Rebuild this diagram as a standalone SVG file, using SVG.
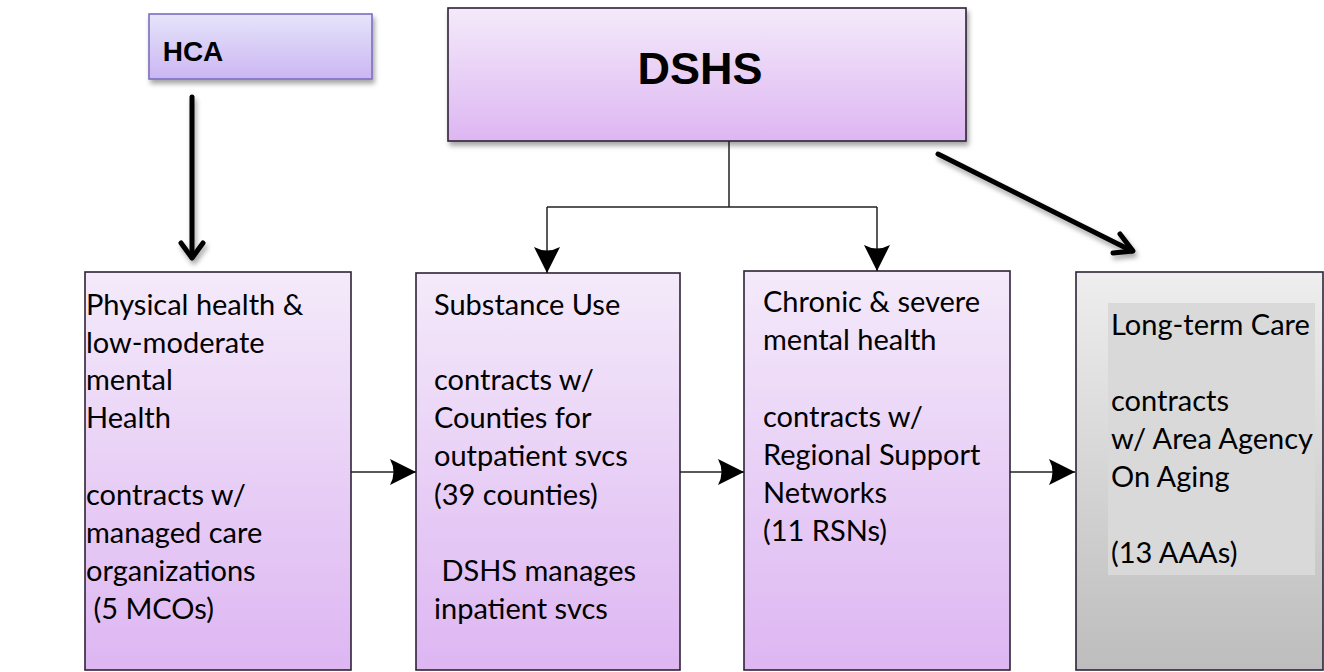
<svg xmlns="http://www.w3.org/2000/svg" width="1324" height="672" viewBox="0 0 1324 672">
<defs>
<linearGradient id="gPurple" x1="0" y1="0" x2="0" y2="1">
<stop offset="0" stop-color="#F4EAFA"/><stop offset="1" stop-color="#DDB6F2"/>
</linearGradient>
<linearGradient id="gHca" x1="0" y1="0" x2="0" y2="1">
<stop offset="0" stop-color="#E6E4FA"/><stop offset="1" stop-color="#CBB6F3"/>
</linearGradient>
<linearGradient id="gGray" x1="0" y1="0" x2="0" y2="1">
<stop offset="0" stop-color="#EEEEEE"/><stop offset="1" stop-color="#BDBDBD"/>
</linearGradient>
<filter id="sh" x="-10%" y="-10%" width="130%" height="140%">
<feDropShadow dx="2" dy="4" stdDeviation="2.5" flood-color="#000" flood-opacity="0.35"/>
</filter>
<marker id="tri" viewBox="0 0 26 26" markerWidth="26" markerHeight="26" refX="26" refY="13" orient="auto" markerUnits="userSpaceOnUse">
<path d="M26,13 L0,0 Q7,13 0,26 Z" fill="#000"/>
</marker>
</defs>
<style>
.box{stroke:#2E2236;stroke-width:1.6}
.t{font-family:Lato,"Liberation Sans",sans-serif;font-size:29px;fill:#000}
.h{font-family:"Liberation Sans",Arial,sans-serif;font-weight:bold;fill:#000}
.thin{fill:none;stroke:#222;stroke-width:1.5}
.thick{fill:none;stroke:#000;stroke-width:5;stroke-linecap:round;stroke-linejoin:round}
</style>

<g id="hca">
<rect x="149" y="14" width="223" height="65" fill="url(#gHca)" stroke="#7A6FC0" stroke-width="1.6" filter="url(#sh)"/>
<text class="h" x="193" y="61" font-size="28" text-anchor="middle">HCA</text>
</g>

<g id="dshs">
<rect x="448" y="8" width="518" height="133" fill="url(#gPurple)" class="box" filter="url(#sh)"/>
<text class="h" x="700" y="84" font-size="45" text-anchor="middle">DSHS</text>
</g>

<g id="physical">
<rect x="85" y="272" width="266" height="398" fill="url(#gPurple)" class="box"/>
<text class="t"><tspan x="86" y="315">Physical health &amp;</tspan><tspan x="86" y="353">low-moderate</tspan><tspan x="86" y="390">mental</tspan><tspan x="86" y="428">Health</tspan><tspan x="86" y="505">contracts w/</tspan><tspan x="86" y="543">managed care</tspan><tspan x="86" y="581">organizations</tspan><tspan x="86" y="619" xml:space="preserve"> (5 MCOs)</tspan></text>
</g>

<g id="substance">
<rect x="416" y="273" width="264" height="397" fill="url(#gPurple)" class="box"/>
<text class="t"><tspan x="434" y="315">Substance Use</tspan><tspan x="434" y="390">contracts w/</tspan><tspan x="434" y="428">Counties for</tspan><tspan x="434" y="466">outpatient svcs</tspan><tspan x="434" y="505">(39 counties)</tspan><tspan x="434" y="581" xml:space="preserve"> DSHS manages</tspan><tspan x="434" y="619">inpatient svcs</tspan></text>
</g>

<g id="chronic">
<rect x="744" y="271" width="266" height="399" fill="url(#gPurple)" class="box"/>
<text class="t"><tspan x="763" y="312">Chronic &amp; severe</tspan><tspan x="763" y="350">mental health</tspan><tspan x="763" y="427">contracts w/</tspan><tspan x="763" y="465">Regional Support</tspan><tspan x="763" y="503">Networks</tspan><tspan x="763" y="541">(11 RSNs)</tspan></text>
</g>

<g id="longterm">
<rect x="1076" y="272" width="247" height="398" fill="url(#gGray)" class="box" stroke="#111"/>
<rect x="1108" y="303" width="207" height="272" fill="#D9D9D9"/>
<text class="t"><tspan x="1111" y="335">Long-term Care</tspan><tspan x="1111" y="411">contracts</tspan><tspan x="1111" y="449">w/ Area Agency</tspan><tspan x="1111" y="487">On Aging</tspan><tspan x="1111" y="563">(13 AAAs)</tspan></text>
</g>

<g id="connectors">
<g filter="url(#sh)">
<path class="thick" d="M192,97 L192,257"/>
<path class="thick" d="M181,243 L192,258 L203,243"/>
<path class="thick" d="M938,154 L1132,251"/>
<path class="thick" d="M1120,234 L1133,251 L1113,253"/>
</g>
<path class="thin" d="M729,141 L729,207 M547,207 L877,207"/>
<path class="thin" d="M547,207 L547,273" marker-end="url(#tri)"/>
<path class="thin" d="M877,207 L877,271" marker-end="url(#tri)"/>
<path class="thin" d="M351,472 L416,472" marker-end="url(#tri)"/>
<path class="thin" d="M680,472 L744,472" marker-end="url(#tri)"/>
<path class="thin" d="M1010,472 L1075,472" marker-end="url(#tri)"/>
</g>
</svg>
